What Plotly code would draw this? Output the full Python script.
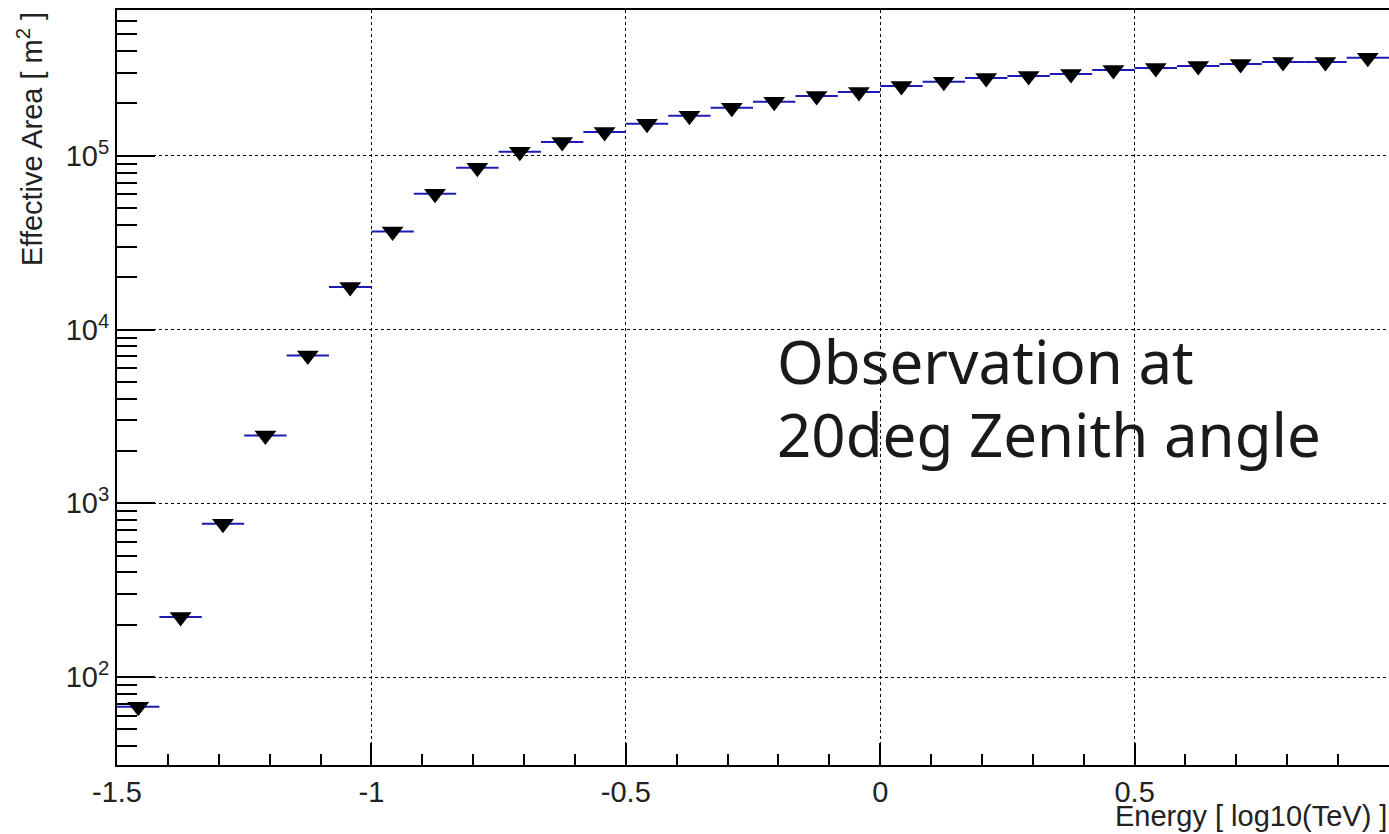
import plotly.graph_objects as go

# Bin centers (log10 E [TeV]) and effective area values [m^2]
energy_log10 = [-1.4583, -1.375, -1.2917, -1.2083, -1.125, -1.0417, -0.9583, -0.875,
                -0.7917, -0.7083, -0.625, -0.5417, -0.4583, -0.375, -0.2917, -0.2083,
                -0.125, -0.0417, 0.0417, 0.125, 0.2083, 0.2917, 0.375, 0.4583,
                0.5417, 0.625, 0.7083, 0.7917, 0.875, 0.9583]
eff_area = [67.5, 222, 764, 2460, 7100, 17600, 36700, 60500,
            85300, 105500, 120000, 137000, 152700, 169800, 188800, 204400,
            221000, 233000, 252000, 267000, 280500, 288000, 296000, 312000,
            320000, 329000, 338000, 347000, 347000, 366000]
bin_half_width = [1.0 / 24] * len(energy_log10)

y_tickvals = [100, 1000, 10000, 100000]
y_ticktext = ["10<sup>2</sup>", "10<sup>3</sup>", "10<sup>4</sup>", "10<sup>5</sup>"]
x_tickvals = [-1.5, -1.0, -0.5, 0.0, 0.5, 1.0]
x_ticktext = ["-1.5", "-1", "-0.5", "0", "0.5", "1"]

fig = go.Figure()
fig.add_trace(go.Scatter(
    x=energy_log10, y=eff_area, mode="markers",
    marker=dict(symbol="triangle-down", size=19, color="black"),
    error_x=dict(type="data", array=bin_half_width, visible=True,
                 color="#1c1cb4", thickness=2, width=0),
    showlegend=False,
))

axis_font = dict(family="Liberation Sans, Arial, sans-serif", size=29, color="#222")

fig.update_layout(
    width=1389, height=834,
    margin=dict(l=117, r=0, t=10, b=69),
    paper_bgcolor="white", plot_bgcolor="white",
    xaxis=dict(
        range=[-1.5, 1.0], tickvals=x_tickvals, ticktext=x_ticktext,
        ticks="inside", ticklen=22, tickwidth=2, tickcolor="black",
        showline=True, linewidth=2, linecolor="black", mirror=True,
        showgrid=True, gridcolor="black", griddash="dot", gridwidth=1,
        zeroline=False, tickfont=axis_font, automargin=False,
        minor=dict(dtick=0.1, ticks="inside", ticklen=11, tickwidth=2,
                   tickcolor="black", showgrid=False),
    ),
    yaxis=dict(
        type="log", range=[1.494, 5.839],
        tickvals=y_tickvals, ticktext=y_ticktext,
        ticks="inside", ticklen=38, tickwidth=2, tickcolor="black",
        showline=True, linewidth=2, linecolor="black",
        showgrid=True, gridcolor="black", griddash="dot", gridwidth=1,
        zeroline=False, tickfont=axis_font, automargin=False,
        minor=dict(dtick="D1", ticks="inside", ticklen=20, tickwidth=2,
                   tickcolor="black", showgrid=False),
    ),
    annotations=[
        dict(text="Effective Area [ m<sup>2</sup> ]", xref="paper", yref="paper",
             x=-117 / 1272 + 30 / 1272, y=1.0, xanchor="center", yanchor="top",
             textangle=-90, showarrow=False,
             font=dict(family="Liberation Sans, Arial, sans-serif", size=29, color="#222")),
        dict(text="Energy [ log10(TeV) ]", xref="paper", yref="paper",
             x=1.0, y=(765 - 816) / 755, xanchor="right", yanchor="middle", showarrow=False,
             font=dict(family="Liberation Sans, Arial, sans-serif", size=29, color="#222")),
        dict(text="Observation at", xref="paper", yref="paper",
             x=(775 - 117) / 1272, y=(765 - 318) / 755, xanchor="left", yanchor="top",
             showarrow=False,
             font=dict(family="Noto Sans", size=60, color="#1a1a1a")),
        dict(text="20deg Zenith angle", xref="paper", yref="paper",
             x=(775 - 117) / 1272, y=(765 - 391) / 755, xanchor="left", yanchor="top",
             showarrow=False,
             font=dict(family="Noto Sans", size=60, color="#1a1a1a")),
    ],
)

fig.write_html("out.html")
